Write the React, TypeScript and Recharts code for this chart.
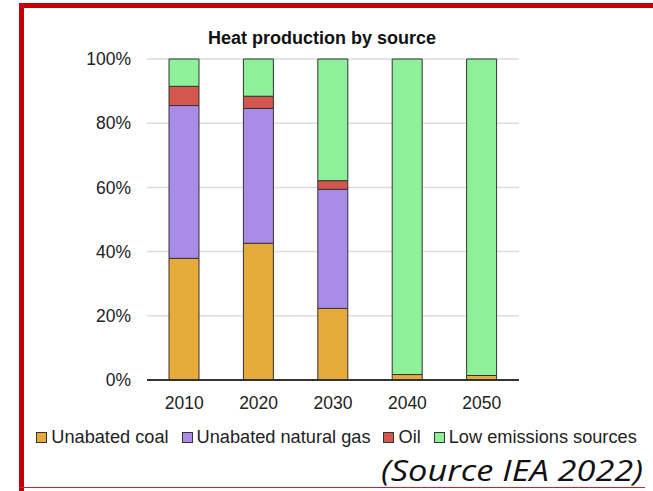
import { BarChart, Bar, XAxis, YAxis, CartesianGrid, Legend } from "recharts";

const years = ["2010", "2020", "2030", "2040", "2050"];
const unabatedCoal = [37.9, 42.6, 22.3, 1.7, 1.4];
const unabatedGas = [47.6, 42.0, 37.1, 0, 0];
const oil = [6.0, 3.8, 2.7, 0, 0];
const lowEmissions = [8.5, 11.6, 37.9, 98.3, 98.6];
const yTicks = [0, 20, 40, 60, 80, 100];

const series = [
  { key: "coal", name: "Unabated coal", color: "#E5AB3B" },
  { key: "gas", name: "Unabated natural gas", color: "#AA8CE8" },
  { key: "oil", name: "Oil", color: "#D4574F" },
  { key: "low", name: "Low emissions sources", color: "#8FF09A" },
];

const data = years.map((year, i) => ({
  year,
  coal: unabatedCoal[i],
  gas: unabatedGas[i],
  oil: oil[i],
  low: lowEmissions[i],
}));

const FONT = "'Liberation Sans', Arial, sans-serif";

function LegendRow() {
  return (
    <div
      style={{
        display: "flex",
        justifyContent: "center",
        gap: 13,
        fontFamily: FONT,
        fontSize: 18.2,
        color: "#222",
        whiteSpace: "nowrap",
      }}
    >
      {series.map((s) => (
        <div key={s.key} style={{ display: "flex", alignItems: "center", gap: 4 }}>
          <span
            style={{
              width: 9,
              height: 9,
              background: s.color,
              border: "1px solid #333",
              display: "inline-block",
            }}
          />
          <span>{s.name}</span>
        </div>
      ))}
    </div>
  );
}

export default function App() {
  return (
    <div
      style={{
        position: "absolute",
        left: 0,
        top: 0,
        width: 653,
        height: 491,
        background: "#fff",
        overflow: "hidden",
      }}
    >
      {/* red frame */}
      <div style={{ position: "absolute", left: 19, top: 3, width: 634, height: 5, background: "#C4000A" }} />
      <div style={{ position: "absolute", left: 19, top: 3, width: 5, height: 488, background: "#C4000A" }} />
      <div style={{ position: "absolute", left: 19, top: 486.5, width: 626, height: 1.5, background: "#D32020" }} />

      <div
        style={{
          position: "absolute",
          left: 22,
          top: 29,
          width: 600,
          textAlign: "center",
          fontFamily: FONT,
          fontWeight: "bold",
          fontSize: 18,
          lineHeight: 1,
          color: "#111",
        }}
      >
        Heat production by source
      </div>

      <div style={{ position: "absolute", left: 0, top: 0 }}>
        <BarChart
          width={653}
          height={491}
          data={data}
          margin={{ top: 59, right: 134, bottom: 81, left: 0 }}
          barSize={30}
        >
          <CartesianGrid vertical={false} stroke="#dddddd" strokeWidth={1.5} />
          <XAxis
            dataKey="year"
            height={30}
            tickLine={false}
            tickSize={0}
            tickMargin={17}
            axisLine={{ stroke: "#333", strokeWidth: 2 }}
            tick={{ fontSize: 17.5, fill: "#222", fontFamily: FONT }}
          />
          <YAxis
            width={147}
            domain={[0, 100]}
            ticks={yTicks}
            tickFormatter={(v) => `${v}%`}
            axisLine={false}
            tickLine={false}
            tickSize={0}
            tickMargin={16}
            tick={{ fontSize: 17.5, fill: "#222", fontFamily: FONT }}
          />
          <Legend
            layout="horizontal"
            verticalAlign="middle"
            align="center"
            wrapperStyle={{ position: "absolute", top: 427, left: 10, width: 653 }}
            content={() => <LegendRow />}
          />
          {series.map((s) => (
            <Bar
              key={s.key}
              dataKey={s.key}
              name={s.name}
              stackId="a"
              fill={s.color}
              stroke="#333"
              strokeWidth={1}
              isAnimationActive={false}
            />
          ))}
        </BarChart>
      </div>

      <svg
        width={653}
        height={491}
        style={{ position: "absolute", left: 0, top: 0, pointerEvents: "none" }}
      >
        <text
          x={381}
          y={481}
          textLength={262}
          lengthAdjust="spacingAndGlyphs"
          fontFamily="'Open Sans', Lato, sans-serif"
          fontStyle="italic"
          fontSize={29}
          fill="#111"
        >
          (Source IEA 2022)
        </text>
      </svg>
    </div>
  );
}
